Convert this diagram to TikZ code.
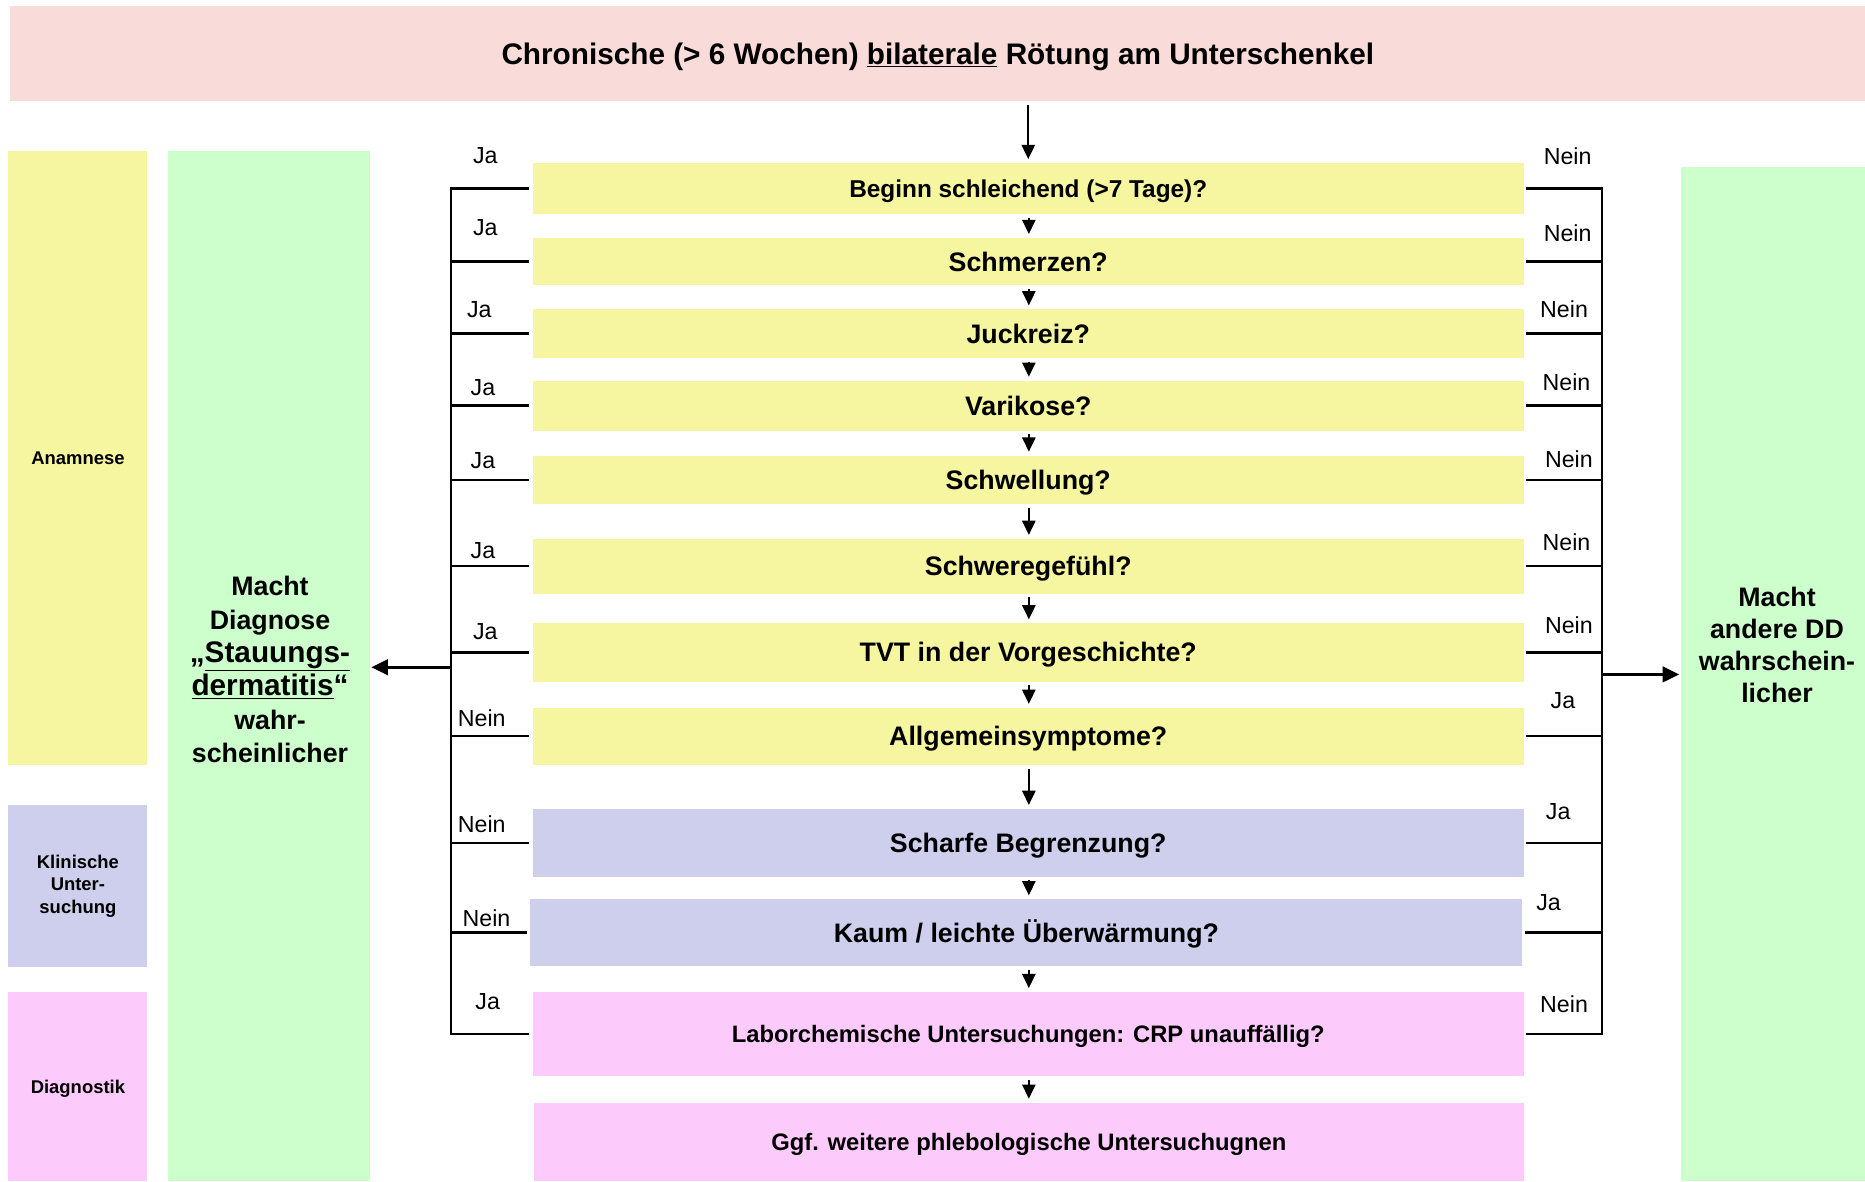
\documentclass[tikz,border=0pt]{standalone}
\usepackage{fontspec}
\setmainfont{Liberation Sans}
\usetikzlibrary{arrows.meta}
\definecolor{titlepink}{RGB}{249,219,217}
\definecolor{qyellow}{RGB}{247,246,160}
\definecolor{dgreen}{RGB}{204,255,204}
\definecolor{klila}{RGB}{206,207,237}
\definecolor{dpink}{RGB}{252,203,252}
\begin{document}
\begin{tikzpicture}[x=1pt,y=-1pt,
  box/.style={inner sep=0pt, draw=none, align=center},
  qbox/.style={box, minimum width=833pt, text height=16.1pt, text depth=0pt,
               font=\bfseries\fontsize{22.5}{27}\selectfont},
  smallq/.style={text height=14.5pt, font=\bfseries\fontsize{20}{24}\selectfont},
  sidebox/.style={box, minimum width=117pt, font=\bfseries\fontsize{15.5}{19}\selectfont},
  gtext/.style={inner sep=0pt, align=center, font=\bfseries\fontsize{22.5}{28}\selectfont},
  yn/.style={inner sep=0pt, font=\fontsize{19.5}{22}\selectfont},
  bus/.style={line width=2pt, line cap=rect},
  arr/.style={line width=2pt, -{Triangle[length=12pt,width=11pt]}, shorten <=3pt, shorten >=3pt},
  bigarr/.style={line width=2.5pt, -{Triangle[length=14pt,width=13pt]}, shorten >=1pt},
]
\useasboundingbox (0,0) rectangle (1568,993);

% title
\node[box, fill=titlepink, minimum width=1561pt, minimum height=80pt,
      text height=17.9pt, text depth=0pt,
      font=\bfseries\fontsize{25}{30}\selectfont] (t) at (788.5,45)
  {Chronische (> 6 Wochen) \underline{bilaterale} Rötung am Unterschenkel};

% phase labels on the left
\node[sidebox, fill=qyellow, minimum height=516pt] (anam) at (65.5,385) {Anamnese};
\node[sidebox, fill=klila, minimum height=136pt] (klin) at (65.5,745) {Klinische\\Unter-\\suchung};
\node[sidebox, fill=dpink, minimum height=159pt, text height=11.1pt, text depth=0pt] (diag) at (65.5,913.5) {Diagnostik};

% outcome columns
\node[box, fill=dgreen, minimum width=170pt, minimum height=866pt] (lgreen) at (226,560) {};
\node[gtext] (ltext) at (227,563)
  {Macht\\Diagnose\\{\fontsize{25}{29}\selectfont„\underline{Stauungs-}}\\{\fontsize{25}{29}\selectfont\underline{dermatitis}“}\\wahr-\\scheinlicher};
\node[box, fill=dgreen, minimum width=155pt, minimum height=853pt] (rgreen) at (1490.5,566.5) {};
\node[gtext, font=\bfseries\fontsize{22.5}{27}\selectfont] (rtext) at (1494,542)
  {Macht\\andere DD\\wahrschein-\\licher};

% questions
\node[qbox, fill=qyellow, minimum height=43pt, text height=14.8pt, font=\bfseries\fontsize{20.5}{25}\selectfont] (q1) at (864.5,158.5) {Beginn schleichend (>7 Tage)?};
\node[qbox, fill=qyellow, minimum height=40pt] (q2) at (864.5,220) {Schmerzen?};
\node[qbox, fill=qyellow, minimum height=41pt] (q3) at (864.5,280.5) {Juckreiz?};
\node[qbox, fill=qyellow, minimum height=42pt] (q4) at (864.5,341) {Varikose?};
\node[qbox, fill=qyellow, minimum height=41pt] (q5) at (864.5,403.5) {Schwellung?};
\node[qbox, fill=qyellow, minimum height=46pt] (q6) at (864.5,476) {Schweregefühl?};
\node[qbox, fill=qyellow, minimum height=49pt] (q7) at (864.5,548.5) {TVT in der Vorgeschichte?};
\node[qbox, fill=qyellow, minimum height=48pt] (q8) at (864.5,619) {Allgemeinsymptome?};
\node[qbox, fill=klila, minimum height=57pt] (q9) at (864.5,708.5) {Scharfe Begrenzung?};
\node[qbox, fill=klila, minimum height=56pt, minimum width=834pt] (q10) at (863,784) {Kaum / leichte Überwärmung?};
\node[qbox, smallq, fill=dpink, minimum height=71pt] (q11) at (864.5,869.5) {Laborchemische Untersuchungen: CRP unauffällig?};
\node[qbox, smallq, fill=dpink, minimum height=66pt, minimum width=832pt] (q12) at (865,960) {Ggf. weitere phlebologische Untersuchugnen};

% main flow
\draw[arr] (t.south -| q1.north) -- (q1.north);
\foreach \a/\b in {q1/q2,q2/q3,q3/q4,q4/q5,q5/q6,q6/q7,q7/q8,q8/q9,q9/q10,q10/q11,q11/q12}
  \draw[arr] (\a.south -| 865,0) -- (\b.north -| 865,0);

% collecting lines
\coordinate (lbus) at (379,0);
\coordinate (rbus) at (1347,0);
\draw[bus] (q1.west -| lbus) -- (q11.west -| lbus);
\draw[bus] (q1.east -| rbus) -- (q11.east -| rbus);
\foreach \q in {q1,q2,q3,q4,q5,q6,q7,q8,q9,q10,q11}{
  \draw[line width=2pt] ([xshift=-3pt]\q.west) -- (\q.west -| lbus);
  \draw[line width=2pt] ([xshift=2pt]\q.east) -- (\q.east -| rbus);
}
\coordinate (lj) at (379,561);
\coordinate (rj) at (1347,567);
\draw[bigarr] (lj) -- (lj -| lgreen.east);
\draw[bigarr] (rj) -- (rj -| rgreen.west);

% answer labels, left side
\node[yn] (la1) at (408,131) {Ja};
\node[yn] (la2) at (408,191) {Ja};
\node[yn] (la3) at (403,260) {Ja};
\node[yn] (la4) at (406,326) {Ja};
\node[yn] (la5) at (406,387) {Ja};
\node[yn] (la6) at (406,463) {Ja};
\node[yn] (la7) at (408,531) {Ja};
\node[yn] (la8) at (405,604) {Nein};
\node[yn] (la9) at (405,693) {Nein};
\node[yn] (la10) at (409,772) {Nein};
\node[yn] (la11) at (410,842) {Ja};

% answer labels, right side
\node[yn] (ra1) at (1318,131) {Nein};
\node[yn] (ra2) at (1318,196) {Nein};
\node[yn] (ra3) at (1315,260) {Nein};
\node[yn] (ra4) at (1317,321) {Nein};
\node[yn] (ra5) at (1319,386) {Nein};
\node[yn] (ra6) at (1317,456) {Nein};
\node[yn] (ra7) at (1319,526) {Nein};
\node[yn] (ra8) at (1314,589) {Ja};
\node[yn] (ra9) at (1310,682) {Ja};
\node[yn] (ra10) at (1302,759) {Ja};
\node[yn] (ra11) at (1315,844) {Nein};
\end{tikzpicture}
\end{document}
